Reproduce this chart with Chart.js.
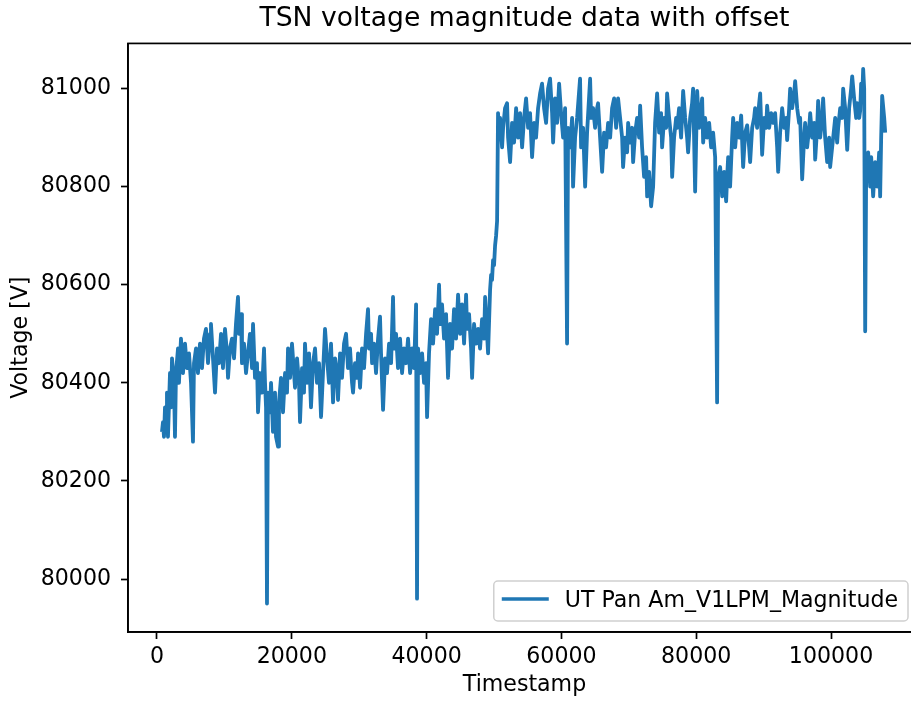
<!DOCTYPE html>
<html>
<head>
<meta charset="utf-8">
<title>TSN voltage magnitude data with offset</title>
<script src="https://cdn.jsdelivr.net/npm/chart.js@4.4.1/dist/chart.umd.min.js"></script>
<style>
  html, body { margin: 0; padding: 0; background: #fff; overflow: hidden; }
  #wrap { width: 911px; height: 702px; overflow: hidden; position: relative; }
  /* the figure is a bit wider than the window: its right spine is cut off */
  #box { width: 935px; height: 702px; position: absolute; left: 0; top: 0; }
</style>
</head>
<body>
<div id="wrap"><div id="box"><canvas id="chart"></canvas></div></div>
<script>
// =======================
// Data
// =======================
const seriesLabel = "UT Pan Am_V1LPM_Magnitude";

const timestamps = [
    740, 890, 1040, 1190, 1340, 1480, 1630, 1930, 2080, 2230,
    2520, 2670, 2820, 3120, 3260, 3560, 3860, 4160, 4450, 4750,
    5050, 5340, 5490, 5790, 6080, 6380, 6680, 6970, 7270, 7570,
    7870, 8010, 8310, 8610, 8900, 9200, 9500, 9790, 10090, 10390,
    10540, 10830, 11130, 11430, 11720, 12020, 12170, 12470, 12610, 12910,
    13210, 13500, 13800, 14100, 14250, 14540, 14840, 14990, 15290, 15580,
    15880, 16030, 16180, 16320, 16470, 16770, 16920, 17210, 17510, 17660,
    17960, 18100, 18400, 18700, 19000, 19290, 19440, 19740, 20030, 20330,
    20480, 20780, 21070, 21220, 21520, 21810, 21960, 22260, 22560, 22850,
    23150, 23450, 23740, 24040, 24340, 24630, 24930, 25230, 25520, 25820,
    26120, 26420, 26710, 26860, 27160, 27450, 27750, 28050, 28340, 28640,
    28940, 29090, 29380, 29680, 29830, 30130, 30420, 30720, 31020, 31310,
    31460, 31760, 31910, 32200, 32500, 32800, 33090, 33240, 33540, 33840,
    34130, 34430, 34730, 35020, 35170, 35470, 35760, 36060, 36360, 36650,
    36950, 37250, 37550, 37840, 38140, 38440, 38580, 38730, 39030, 39330,
    39620, 39920, 40070, 40360, 40660, 40960, 41260, 41550, 41850, 42000,
    42290, 42590, 42890, 43180, 43480, 43780, 44070, 44370, 44670, 44970,
    45260, 45560, 45860, 46000, 46300, 46600, 46750, 47040, 47340, 47640,
    47930, 48230, 48530, 48680, 48970, 49120, 49420, 49570, 49710, 49860,
    50010, 50160, 50310, 50460, 50600, 50750, 50900, 51200, 51350, 51640,
    51940, 52090, 52390, 52680, 52980, 53280, 53570, 53870, 54170, 54460,
    54760, 55060, 55350, 55650, 55950, 56240, 56540, 56840, 57130, 57430,
    57730, 58020, 58320, 58620, 58770, 59060, 59360, 59660, 59950, 60250,
    60550, 60840, 60990, 61290, 61590, 61730, 62030, 62330, 62770, 62920,
    63220, 63520, 63810, 64260, 64410, 64700, 65000, 65300, 65440, 65740,
    66040, 66330, 66630, 66930, 67230, 67520, 67820, 68120, 68410, 68710,
    69010, 69150, 69450, 69750, 69900, 70190, 70490, 70640, 70940, 71230,
    71530, 71680, 71970, 72270, 72570, 72720, 73010, 73310, 73610, 73900,
    74200, 74500, 74790, 74940, 75240, 75540, 75680, 75980, 76280, 76430,
    76720, 77020, 77170, 77460, 77760, 78060, 78360, 78650, 78800, 79100,
    79390, 79540, 79840, 80140, 80430, 80730, 80880, 81030, 81320, 81620,
    81920, 82210, 82510, 82810, 83100, 83250, 83550, 83850, 84140, 84440,
    84590, 84740, 85030, 85330, 85480, 85780, 86070, 86370, 86670, 86960,
    87260, 87560, 87850, 88000, 88300, 88590, 88740, 89040, 89340, 89490,
    89780, 90080, 90380, 90520, 90820, 91120, 91410, 91710, 92010, 92160,
    92450, 92750, 93050, 93340, 93490, 93790, 93940, 94230, 94530, 94680,
    94980, 95270, 95420, 95720, 96010, 96160, 96460, 96760, 96910, 97200,
    97500, 97650, 97940, 98090, 98390, 98690, 98830, 99130, 99430, 99720,
    99870, 100170, 100320, 100620, 100910, 101060, 101360, 101650, 101800, 102100,
    102400, 102690, 102990, 103140, 103430, 103730, 103880, 104180, 104330, 104470,
    104620, 104770, 104920, 105070, 105220, 105510, 105810, 105960, 106250, 106550,
    106850, 107140, 107290, 107440, 107590, 107890, 108040
];

const voltages = [
    80300, 80320, 80290, 80350, 80300, 80380, 80290, 80420, 80350, 80450,
    80400, 80290, 80420, 80470, 80400, 80490, 80420, 80480, 80430, 80460,
    80400, 80280, 80440, 80470, 80420, 80480, 80430, 80490, 80510, 80440,
    80500, 80520, 80450, 80380, 80470, 80440, 80500, 80430, 80510, 80460,
    80410, 80470, 80490, 80450, 80520, 80575, 80500, 80540, 80440, 80480,
    80420, 80460, 80500, 80430, 80520, 80410, 80440, 80340, 80420, 80380,
    80470, 80400, 80350, 79950, 80380, 80340, 80400, 80300, 80380, 80290,
    80270, 80360, 80410, 80340, 80420, 80380, 80470, 80410, 80480, 80420,
    80390, 80450, 80400, 80320, 80430, 80380, 80480, 80400, 80460, 80350,
    80440, 80470, 80400, 80440, 80330, 80420, 80510, 80450, 80400, 80480,
    80360, 80450, 80420, 80365, 80460, 80410, 80480, 80500, 80430, 80470,
    80400, 80380, 80440, 80410, 80460, 80390, 80470, 80430, 80500, 80550,
    80470, 80500, 80440, 80480, 80420, 80490, 80535, 80460, 80345, 80450,
    80420, 80480, 80440, 80575, 80470, 80500, 80430, 80490, 80420, 80470,
    80440, 80490, 80420, 80470, 80430, 80560, 79960, 80470, 80420, 80460,
    80400, 80440, 80330, 80460, 80530, 80480, 80550, 80500, 80600, 80520,
    80560, 80490, 80540, 80410, 80520, 80470, 80550, 80490, 80580, 80500,
    80560, 80480, 80580, 80510, 80540, 80470, 80410, 80520, 80480, 80510,
    80470, 80530, 80490, 80575, 80500, 80460, 80590, 80620, 80610, 80650,
    80640, 80680, 80700, 80730, 80950, 80900, 80940, 80880, 80920, 80960,
    80970, 80900, 80850, 80930, 80890, 80960, 80900, 80950, 80880, 80940,
    80980, 80920, 80950, 80860, 80930, 80900, 80960, 80990, 81010, 80960,
    80930, 81000, 81020, 80950, 80890, 80980, 80930, 81010, 80950, 80900,
    80960, 80480, 80920, 80880, 80940, 80800, 80900, 80940, 81020, 80880,
    80920, 80800, 80910, 81020, 80940, 80960, 80920, 80960, 80970, 80900,
    80830, 80910, 80880, 80930, 80900, 80960, 80980, 80920, 80980, 80940,
    80900, 80840, 80900, 80870, 80930, 80890, 80920, 80850, 80910, 80940,
    80900, 80965, 80880, 80820, 80860, 80780, 80830, 80760, 80800, 80930,
    80990, 80910, 80950, 80880, 80940, 80920, 80990, 80940, 80900, 80820,
    80900, 80940, 80920, 80960, 80900, 80995, 80940, 80900, 80870, 80940,
    80970, 81000, 80790, 80995, 80920, 80960, 80980, 80890, 80940, 80900,
    80930, 80880, 80910, 80860, 80360, 80820, 80840, 80780, 80830, 80770,
    80820, 80860, 80800, 80900, 80940, 80880, 80930, 80900, 80945, 80840,
    80910, 80925, 80880, 80850, 80920, 80940, 80960, 80920, 80970, 80990,
    80865, 80940, 80920, 80965, 80920, 80950, 80930, 80950, 80880, 80830,
    80910, 80960, 80920, 80940, 80895, 80960, 81000, 80960, 80990, 81015,
    80960, 80930, 80940, 80815, 80900, 80930, 80880, 80920, 80950, 80900,
    80930, 80855, 80920, 80975, 80900, 80940, 80980, 80900, 80850, 80900,
    80840, 80880, 80900, 80940, 80890, 80920, 80960, 80940, 81000, 80960,
    80875, 80960, 81000, 81025, 80980, 80940, 80970, 80940, 80955, 81010,
    80980, 81040, 81000, 80505, 80840, 80870, 80800, 80860, 80780, 80850,
    80800, 80870, 80780, 80900, 80985, 80940, 80910
];

const xTicks = [0, 20000, 40000, 60000, 80000, 100000];
const yTicks = [80000, 80200, 80400, 80600, 80800, 81000];

// axis limits (matplotlib style 5% margins around the data)
const X_MIN = -4300, X_MAX = 113350;
const Y_MIN = 79892, Y_MAX = 81092;

const BLUE = "#1f77b4";
const FONT = "'DejaVu Sans', 'Liberation Sans', sans-serif";
const TICK_SIZE = 22.1;

Chart.defaults.font.family = FONT;
Chart.defaults.color = "#000";

// =======================
// Plugins: box frame + legend inside the axes
// =======================
const framePlugin = {
    id: "frame",
    afterDatasetsDraw(chart) {
        const { ctx, chartArea: a } = chart;
        ctx.save();
        ctx.strokeStyle = "#000";
        ctx.lineWidth = 1.7;
        ctx.strokeRect(a.left, a.top, a.right - a.left, a.bottom - a.top);
        ctx.restore();
    }
};

const legendPlugin = {
    id: "innerLegend",
    afterDraw(chart) {
        const { ctx, chartArea: a } = chart;
        const ds = chart.data.datasets[0];
        ctx.save();
        ctx.font = TICK_SIZE + "px " + FONT;
        const tw = ctx.measureText(ds.label).width;
        const w = 8 + 47 + 16 + tw + 10;
        const h = 40;
        const right = a.right - 13;
        const bottom = a.bottom - 11;
        const left = right - w;
        const top = bottom - h;

        ctx.beginPath();
        ctx.roundRect(left, top, w, h, 4);
        ctx.fillStyle = "rgba(255,255,255,0.8)";
        ctx.fill();
        ctx.strokeStyle = "#d0d0d0";
        ctx.lineWidth = 1.5;
        ctx.stroke();

        ctx.beginPath();
        ctx.moveTo(left + 8, top + 18);
        ctx.lineTo(left + 55, top + 18);
        ctx.strokeStyle = ds.borderColor;
        ctx.lineWidth = 3.4;
        ctx.stroke();

        ctx.fillStyle = "#000";
        ctx.textBaseline = "alphabetic";
        ctx.textAlign = "left";
        ctx.fillText(ds.label, left + 71, top + 26);
        ctx.restore();
    }
};

// =======================
// Chart
// =======================
const ctx = document.getElementById("chart").getContext("2d");

new Chart(ctx, {
    type: "line",
    data: {
        datasets: [{
            label: seriesLabel,
            data: timestamps.map((t, i) => ({ x: t, y: voltages[i] })),
            borderColor: BLUE,
            backgroundColor: BLUE,
            borderWidth: 3.8,
            borderJoinStyle: "round",
            pointRadius: 0,
            fill: false,
            tension: 0
        }]
    },
    options: {
        responsive: true,
        maintainAspectRatio: false,
        animation: false,
        layout: { padding: { left: 0, right: 14, top: 0, bottom: 0 } },
        plugins: {
            legend: { display: false },
            tooltip: { enabled: false },
            title: {
                display: true,
                text: "TSN voltage magnitude data with offset",
                fullSize: false,
                color: "#000",
                font: { size: 26.6, weight: "normal" },
                padding: { top: 3, bottom: 8.5 }
            }
        },
        scales: {
            x: {
                type: "linear",
                min: X_MIN,
                max: X_MAX,
                afterBuildTicks: s => { s.ticks = xTicks.map(v => ({ value: v })); },
                afterFit: s => { s.height = 70; },
                ticks: {
                    callback: v => String(v),
                    font: { size: TICK_SIZE },
                    color: "#000",
                    padding: 5,
                    maxRotation: 0,
                    autoSkip: false
                },
                grid: {
                    drawOnChartArea: false,
                    drawTicks: true,
                    tickLength: 7,
                    tickWidth: 1.7,
                    tickColor: "#000"
                },
                border: { display: true, color: "#000", width: 1.7 },
                title: {
                    display: true,
                    text: "Timestamp",
                    color: "#000",
                    font: { size: TICK_SIZE },
                    padding: { top: 0, bottom: 3 }
                }
            },
            y: {
                type: "linear",
                min: Y_MIN,
                max: Y_MAX,
                afterBuildTicks: s => { s.ticks = yTicks.map(v => ({ value: v })); },
                afterFit: s => { s.width = 128; },
                ticks: {
                    callback: v => String(v),
                    font: { size: TICK_SIZE },
                    color: "#000",
                    padding: 10,
                    autoSkip: false
                },
                grid: {
                    drawOnChartArea: false,
                    drawTicks: true,
                    tickLength: 7,
                    tickWidth: 1.7,
                    tickColor: "#000"
                },
                border: { display: true, color: "#000", width: 1.7 },
                title: {
                    display: true,
                    text: "Voltage [V]",
                    color: "#000",
                    font: { size: TICK_SIZE },
                    padding: { top: 8, bottom: 0 }
                }
            }
        }
    },
    plugins: [framePlugin, legendPlugin]
});
</script>
</body>
</html>
